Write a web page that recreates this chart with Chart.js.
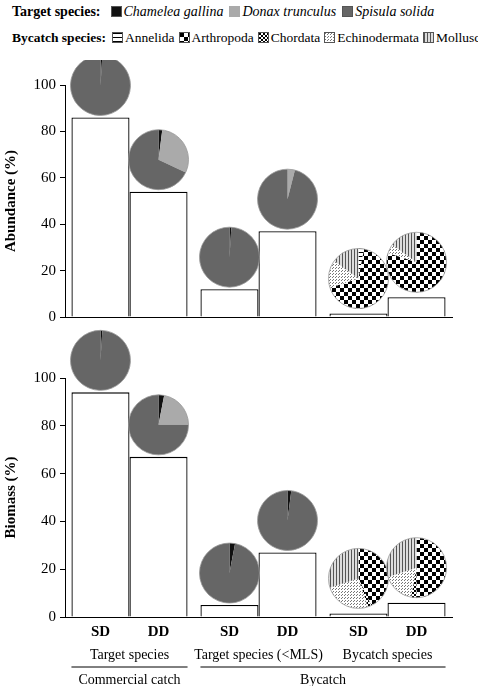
<!DOCTYPE html>
<html><head><meta charset="utf-8">
<script src="https://cdn.jsdelivr.net/npm/chart.js@4"></script>
<style>
body{margin:0;width:478px;height:686px;background:#fff;position:relative;font-family:"Liberation Serif","Times New Roman",Times,serif;overflow:hidden}
.lg{position:absolute;left:12px;font-size:14px;color:#000;white-space:nowrap;font-family:"Liberation Serif","Times New Roman",Times,serif}
.lg b{margin-right:4px}
.sw{display:inline-block;width:11px;height:11px;margin:0 2px 0 6px;vertical-align:-1px;border:1px solid #555;box-sizing:border-box}
canvas{position:absolute;left:0}
</style></head><body>
<div class="lg" style="top:4px"><b>Target species:</b><span class="sw" style="background:#111"></span><i>Chamelea gallina</i><span class="sw" style="background:#aaa;border-color:#aaa"></span><i>Donax trunculus</i><span class="sw" style="background:#666"></span><i>Spisula solida</i></div>
<div class="lg" style="top:30px;font-size:13.5px"><b>Bycatch species:</b><span id="lgb"></span></div>
<canvas id="c1" style="top:60px" width="478" height="270"></canvas>
<canvas id="c2" style="top:300px" width="478" height="386"></canvas>
<script>
const SERIF='"Liberation Serif","Times New Roman",serif';
const groups=["Target species","Target species (<MLS)","Bycatch species"];
const fleets=["SD","DD"];
const abundSD=[86,12,1.5], abundDD=[54,37,8.5];
const biomSD=[94,5,1.5], biomDD=[67,27,6];
const targetNames=["Chamelea gallina","Donax trunculus","Spisula solida"];
const bycatchNames=["Annelida","Arthropoda","Chordata","Echinodermata","Mollusca"];
const abundPies=[[[1,0,99],[2,30,68]],[[1,0,99],[0,4,96]],[[3,67,0,15,15],[0,80,0,5,15]]];
const biomPies=[[[1,0,99],[3,22,75]],[[3,0,97],[2,0,98]],[[0,43,2,25,30],[0,50,3,17,30]]];

function mkPat(kind){
  const c=document.createElement('canvas');const x=c.getContext('2d');
  if(kind==='Annelida'){c.width=c.height=4;x.fillStyle='#fff';x.fillRect(0,0,4,4);x.fillStyle='#000';x.fillRect(0,0,4,1);}
  else if(kind==='Arthropoda'){c.width=c.height=8;x.fillStyle='#fff';x.fillRect(0,0,8,8);x.fillStyle='#000';x.fillRect(0,0,4,4);x.fillRect(4,4,4,4);}
  else if(kind==='Chordata'){c.width=c.height=4;x.fillStyle='#fff';x.fillRect(0,0,4,4);x.fillStyle='#000';x.fillRect(0,0,2,2);x.fillRect(2,2,2,2);}
  else if(kind==='Echinodermata'){c.width=c.height=3;x.fillStyle='#fff';x.fillRect(0,0,3,3);x.fillStyle='#777';x.fillRect(0,0,1,1);x.fillRect(2,1,1,1);}
  else {c.width=c.height=3;x.fillStyle='#ddd';x.fillRect(0,0,3,3);x.fillStyle='#555';x.fillRect(0,0,1,3);}
  return c;
}
const tmpCtx=document.createElement('canvas').getContext('2d');
const bycatchFill=bycatchNames.map(n=>tmpCtx.createPattern(mkPat(n),'repeat'));
const targetFill=['#111','#aaa','#666'];
document.getElementById('lgb').innerHTML=bycatchNames.map(n=>{const c=mkPat(n);return '<span class="sw" style="background:url('+c.toDataURL()+');margin-left:'+(n==='Annelida'?2:4)+'px"></span>'+n}).join('');

function piePlugin(pies){return{id:'pies',afterDatasetsDraw(chart){
  const ctx=chart.ctx;
  chart.data.datasets.forEach((ds,di)=>{
    chart.getDatasetMeta(di).data.forEach((bar,gi)=>{
      const vals=pies[gi][di];const fills=gi===2?bycatchFill:targetFill;
      const r=30;const cx=bar.x, cy=bar.y-r-(gi===2?5:2);
      const tot=vals.reduce((a,b)=>a+b,0);let a=-Math.PI/2;
      vals.forEach((v,k)=>{if(!v)return;const e=a+v/tot*2*Math.PI;
        ctx.beginPath();ctx.moveTo(cx,cy);ctx.arc(cx,cy,r,a,e);ctx.closePath();
        ctx.fillStyle=fills[k];ctx.fill();a=e;});
      ctx.beginPath();ctx.arc(cx,cy,r,0,2*Math.PI);ctx.strokeStyle='#999';ctx.lineWidth=0.8;ctx.stroke();
    });
  });
}}}
const labelsPlugin={id:'xl',afterDraw(chart){
  const ctx=chart.ctx,xs=chart.scales.x,b=chart.chartArea.bottom;
  ctx.fillStyle='#000';ctx.textAlign='center';ctx.textBaseline='middle';
  ctx.font='bold 15px '+SERIF;
  chart.data.datasets.forEach((ds,di)=>chart.getDatasetMeta(di).data.forEach(bar=>ctx.fillText(ds.label,bar.x,b+15)));
  ctx.font='14px '+SERIF;
  groups.forEach((g,i)=>ctx.fillText(g,xs.getPixelForValue(i),b+38));
  const m0=chart.getDatasetMeta(0).data,m1=chart.getDatasetMeta(1).data;
  ctx.strokeStyle='#000';ctx.lineWidth=1;ctx.beginPath();
  ctx.moveTo(m0[0].x-m0[0].width/2,b+50);ctx.lineTo(m1[0].x+m1[0].width/2,b+50);
  ctx.moveTo(m0[1].x-m0[1].width/2,b+50);ctx.lineTo(m1[2].x+m1[2].width/2,b+50);ctx.stroke();
  ctx.fillText("Commercial catch",xs.getPixelForValue(0),b+63);
  ctx.fillText("Bycatch",(m0[1].x-m0[1].width/2+m1[2].x+m1[2].width/2)/2,b+63);
}};
function make(id,sd,dd,pies,title,padTop,xh,bottomLabels){
  return new Chart(document.getElementById(id),{type:'bar',
    data:{labels:groups,datasets:[{label:fleets[0],data:sd},{label:fleets[1],data:dd}].map(d=>Object.assign(d,{backgroundColor:'#fff',borderColor:'#000',borderWidth:1.3}))},
    options:{responsive:false,animation:false,events:[],
      layout:{padding:{top:padTop,right:26,left:0,bottom:0}},
      plugins:{legend:{display:false},tooltip:{enabled:false}},
      datasets:{bar:{categoryPercentage:0.9,barPercentage:1}},
      scales:{x:{grid:{display:false},border:{color:'#000'},ticks:{display:false},afterFit:s=>{s.height=xh;}},
        y:{min:0,max:100,ticks:{stepSize:20,color:'#000',font:{family:SERIF,size:15},padding:4},
          grid:{drawOnChartArea:false,tickLength:5,color:'#000'},border:{color:'#000'},
          title:{display:true,text:title,color:'#000',font:{family:SERIF,size:15,weight:'bold'},padding:2},
          afterFit:s=>{s.width=65;}}}},
    plugins:bottomLabels?[piePlugin(pies),labelsPlugin]:[piePlugin(pies)]});
}
make('c1',abundSD,abundDD,abundPies,'Abundance (%)',25,0,false);
make('c2',biomSD,biomDD,biomPies,'Biomass (%)',78,69,true);
</script></body></html>
